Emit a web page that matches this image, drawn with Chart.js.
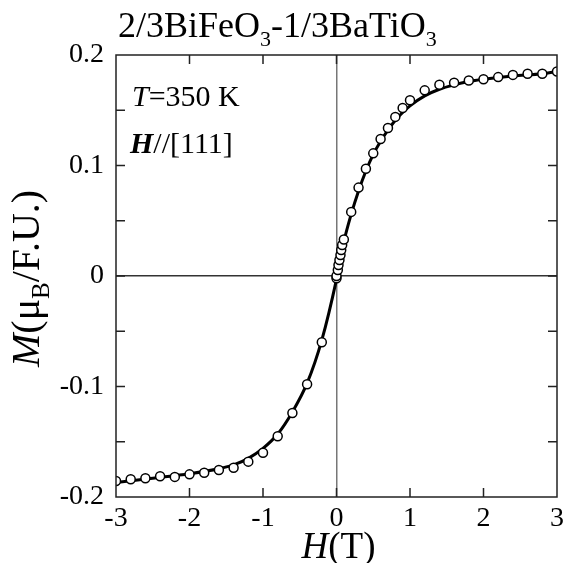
<!DOCTYPE html>
<html><head><meta charset="utf-8">
<script src="https://cdn.jsdelivr.net/npm/chart.js@4/dist/chart.umd.min.js"></script>
<style>html,body{margin:0;padding:0;background:#fff}</style>
</head><body>
<canvas id="c" width="563" height="563" style="width:563px;height:563px;display:block"></canvas>
<script>
// Measured points: field H (T) and magnetization M (μB/F.U.)
const pointH = [-3.0,-2.8,-2.6,-2.4,-2.2,-2.0,-1.8,-1.6,-1.4,-1.2,-1.0,-0.8,-0.6,-0.4,-0.2,0.0,
  0.0,0.018,0.027,0.04,0.054,0.064,0.077,
  0.1,0.2,0.3,0.4,0.5,0.6,0.7,0.8,0.9,1.0,1.2,1.4,1.6,1.8,2.0,2.2,2.4,2.6,2.8,3.0];
const pointM = [-0.1855,-0.184,-0.183,-0.1812,-0.1818,-0.1795,-0.178,-0.1756,-0.1735,-0.168,-0.160,-0.145,-0.124,-0.098,-0.060,-0.002,
  0.0,0.0054,0.010,0.0145,0.019,0.0235,0.028,
  0.033,0.058,0.080,0.097,0.111,0.124,0.134,0.144,0.152,0.159,0.168,0.173,0.175,0.177,0.178,0.180,0.182,0.183,0.183,0.185];
// Fitted curve
const fitH = [-3.0,-2.5,-2.0,-1.6,-1.4,-1.2,-1.0,-0.8,-0.6,-0.4,-0.2,0.0,0.1,0.2,0.3,0.4,0.5,0.6,0.7,0.8,0.9,1.0,1.2,1.4,1.6,1.8,2.0,2.4,2.8,3.0];
const fitM = [-0.187,-0.183,-0.179,-0.1745,-0.171,-0.165,-0.156,-0.143,-0.123,-0.097,-0.058,-0.003,0.031,0.056,0.077,0.095,0.110,0.122,0.132,0.141,0.148,0.154,0.163,0.169,0.173,0.176,0.178,0.181,0.183,0.185];
// Axes
const xTickValues = [-3,-2,-1,0,1,2,3];
const xTickLabels = ['-3','-2','-1','0','1','2','3'];
const yTickValues = [-0.2,-0.1,0,0.1,0.2];
const yTickLabels = ['-0.2','-0.1','0','0.1','0.2'];
const yMinorTicks = [-0.15,-0.05,0.05,0.15];
// Texts
const titleParts = [['2/3BiFeO',''],['3','sub'],['-1/3BaTiO',''],['3','sub']];
const insetLine1 = [['T','i'],['=350 K','']];
const insetLine2 = [['H','bi'],['//[111]','']];
const xTitleParts = [['H','i'],['(T)','']];
const yTitleParts = [['M','i'],['(μ',''],['B','sub'],['/F.U.)','']];

const FF = '"Liberation Serif","Times New Roman",serif';

function fontFor(s, size) {
  let f = size + 'px ' + FF;
  if (s === 'i') f = 'italic ' + f;
  if (s === 'bi') f = 'italic bold ' + f;
  if (s === 'sub') f = Math.round(size * 0.62) + 'px ' + FF;
  return f;
}
function drawRich(ctx, x, y, parts, size) {
  let cx = x;
  for (const [t, s] of parts) {
    ctx.font = fontFor(s, size);
    ctx.fillText(t, cx, y + (s === 'sub' ? size * 0.24 : 0));
    cx += ctx.measureText(t).width;
  }
  return cx - x;
}
function richWidth(ctx, parts, size) {
  let w = 0;
  for (const [t, s] of parts) { ctx.font = fontFor(s, size); w += ctx.measureText(t).width; }
  return w;
}

const deco = {
  id: 'deco',
  afterDraw(chart) {
    const ctx = chart.ctx, a = chart.chartArea, xs = chart.scales.x, ys = chart.scales.y;
    ctx.save();
    ctx.strokeStyle = '#222'; ctx.lineWidth = 1.5;
    ctx.strokeRect(a.left, a.top, a.right - a.left, a.bottom - a.top);
    const L = 9;
    ctx.beginPath();
    for (const v of xTickValues) {
      const px = xs.getPixelForValue(v);
      if (v === -3 || v === 3) continue;
      ctx.moveTo(px, a.bottom); ctx.lineTo(px, a.bottom - L);
      ctx.moveTo(px, a.top); ctx.lineTo(px, a.top + L);
    }
    for (const v of yTickValues.concat(yMinorTicks)) {
      if (v === -0.2 || v === 0.2) continue;
      const py = ys.getPixelForValue(v);
      ctx.moveTo(a.left, py); ctx.lineTo(a.left + L, py);
      ctx.moveTo(a.right, py); ctx.lineTo(a.right - L, py);
    }
    ctx.stroke();
    ctx.fillStyle = '#000'; ctx.textBaseline = 'alphabetic'; ctx.textAlign = 'left';
    drawRich(ctx, 118, 37, titleParts, 36);
    drawRich(ctx, 132, 106, insetLine1, 30);
    drawRich(ctx, 130, 153, insetLine2, 30);
    const xw = richWidth(ctx, xTitleParts, 37);
    drawRich(ctx, (a.left + a.right) / 2 - xw / 2 + 2, 558, xTitleParts, 37);
    ctx.translate(39, 367); ctx.rotate(-Math.PI / 2);
    drawRich(ctx, 0, 0, yTitleParts, 40);
    ctx.restore();
  }
};

new Chart(document.getElementById('c'), {
  type: 'line',
  data: {
    datasets: [
      { data: pointH.map((h, i) => ({ x: h, y: pointM[i] })), showLine: false,
        pointRadius: 4.5, pointBorderWidth: 1.5, pointBackgroundColor: '#fff', pointBorderColor: '#000', order: 0 },
      { data: fitH.map((h, i) => ({ x: h, y: fitM[i] })), borderColor: '#000', borderWidth: 3,
        pointRadius: 0, cubicInterpolationMode: 'monotone', fill: false, order: 1 }
    ]
  },
  options: {
    responsive: false, animation: false, devicePixelRatio: 1,
    layout: { padding: { top: 55, right: 5, left: 0, bottom: 0 } },
    plugins: { legend: { display: false }, tooltip: { enabled: false } },
    scales: {
      x: { type: 'linear', min: -3, max: 3,
        afterBuildTicks: s => { s.ticks = xTickValues.map(v => ({ value: v })); },
        ticks: { font: { size: 28, family: FF }, color: '#000', padding: 5, maxRotation: 0, autoSkip: false,
          callback: v => { const i = xTickValues.indexOf(v); return i >= 0 ? xTickLabels[i] : ''; } },
        grid: { drawTicks: false, lineWidth: 1.5, color: c => (c.tick && c.tick.value === 0) ? '#777' : 'rgba(0,0,0,0)' },
        border: { display: false },
        afterFit: s => { s.height = 66; s.paddingLeft = 0; s.paddingRight = 0; } },
      y: { type: 'linear', min: -0.2, max: 0.2,
        afterBuildTicks: s => { s.ticks = yTickValues.map(v => ({ value: v })); },
        ticks: { font: { size: 28, family: FF }, color: '#000', padding: 12,
          callback: v => { const i = yTickValues.findIndex(t => Math.abs(t - v) < 1e-9); return i >= 0 ? yTickLabels[i] : ''; } },
        grid: { drawTicks: false, lineWidth: 1.5, color: c => (c.tick && Math.abs(c.tick.value) < 1e-9) ? '#333' : 'rgba(0,0,0,0)' },
        border: { display: false },
        afterFit: s => { s.width = 116; s.paddingTop = 0; s.paddingBottom = 0; } }
    }
  },
  plugins: [deco]
});
</script>
</body></html>
